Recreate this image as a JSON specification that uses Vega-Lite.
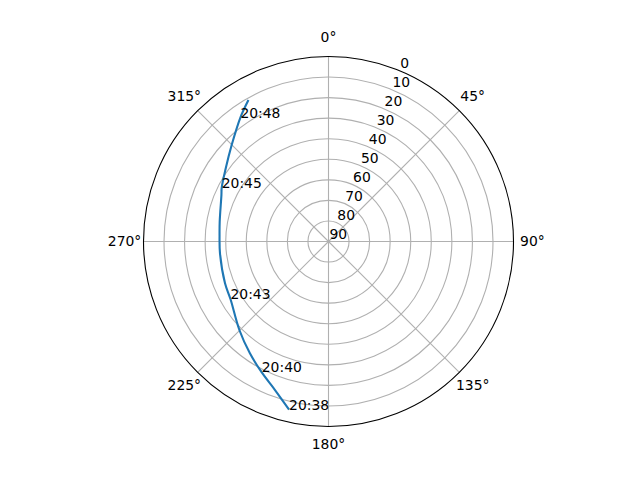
{
  "$schema": "https://vega.github.io/schema/vega-lite/v6.json",
  "width": 370,
  "height": 370,
  "autosize": "none",
  "padding": {"left": 143.5, "top": 56.5, "right": 126.5, "bottom": 53.5},
  "background": "white",
  "config": {
    "view": {"stroke": null},
    "font": "DejaVu Sans",
    "text": {"font": "DejaVu Sans", "fontSize": 13.9, "color": "black"}
  },
  "layer": [
    {
      "data": {"values": [
        {"elev": 10}, {"elev": 20}, {"elev": 30}, {"elev": 40},
        {"elev": 50}, {"elev": 60}, {"elev": 70}, {"elev": 80}
      ]},
      "mark": {"type": "arc", "filled": false, "stroke": "#b0b0b0", "strokeWidth": 1.1, "fill": null},
      "encoding": {
        "theta": {"value": 0},
        "theta2": {"value": 6.2832},
        "radius": {"field": "elev", "type": "quantitative", "stack": null, "scale": {"type": "linear", "domain": [90, 0], "range": [0, 185], "zero": false, "nice": false}}
      }
    },
    {
      "data": {"values": [
        {"az": 0}, {"az": 45}, {"az": 90}, {"az": 135},
        {"az": 180}, {"az": 225}, {"az": 270}, {"az": 315}
      ]},
      "transform": [
        {"calculate": "90 * sin(datum.az * PI / 180)", "as": "x"},
        {"calculate": "90 * cos(datum.az * PI / 180)", "as": "y"},
        {"calculate": "0", "as": "x0"}
      ],
      "mark": {"type": "rule", "stroke": "#b0b0b0", "strokeWidth": 1.1},
      "encoding": {
        "x": {"field": "x0", "type": "quantitative", "scale": {"domain": [-90, 90], "nice": false, "zero": false}, "axis": null},
        "y": {"field": "x0", "type": "quantitative", "scale": {"domain": [-90, 90], "nice": false, "zero": false}, "axis": null},
        "x2": {"field": "x"},
        "y2": {"field": "y"}
      }
    },
    {
      "data": {"values": [{"elev": 0}]},
      "mark": {"type": "arc", "filled": false, "stroke": "black", "strokeWidth": 1.1, "fill": null},
      "encoding": {
        "theta": {"value": 0},
        "theta2": {"value": 6.2832},
        "radius": {"field": "elev", "type": "quantitative", "stack": null, "scale": {"type": "linear", "domain": [90, 0], "range": [0, 185], "zero": false, "nice": false}}
      }
    },
    {
      "data": {"values": [
        {"i": 1, "az": 193.2, "el": 6.0, "label": "20:38"},
        {"i": 2, "az": 199.8, "el": 13.2, "label": ""},
        {"i": 3, "az": 207.0, "el": 18.5, "label": "20:40"},
        {"i": 4, "az": 215.1, "el": 23.5, "label": ""},
        {"i": 5, "az": 225.2, "el": 28.9, "label": ""},
        {"i": 6, "az": 239.6, "el": 34.7, "label": "20:43"},
        {"i": 7, "az": 248.0, "el": 35.7, "label": ""},
        {"i": 8, "az": 263.8, "el": 36.9, "label": ""},
        {"i": 9, "az": 273.4, "el": 36.9, "label": ""},
        {"i": 10, "az": 280.3, "el": 36.2, "label": ""},
        {"i": 11, "az": 293.5, "el": 33.2, "label": ""},
        {"i": 12, "az": 296.8, "el": 31.8, "label": "20:45"},
        {"i": 13, "az": 305.5, "el": 28.6, "label": ""},
        {"i": 14, "az": 314.9, "el": 23.5, "label": ""},
        {"i": 15, "az": 324.6, "el": 16.0, "label": "20:48"},
        {"i": 16, "az": 330.5, "el": 10.9, "label": ""}
      ]},
      "transform": [
        {"calculate": "(90 - datum.el) * sin(datum.az * PI / 180)", "as": "x"},
        {"calculate": "(90 - datum.el) * cos(datum.az * PI / 180)", "as": "y"}
      ],
      "layer": [
        {
          "mark": {"type": "line", "color": "#1f77b4", "strokeWidth": 2.1, "interpolate": "catmull-rom"},
          "encoding": {
            "x": {"field": "x", "type": "quantitative", "scale": {"domain": [-90, 90], "nice": false, "zero": false}, "axis": null},
            "y": {"field": "y", "type": "quantitative", "scale": {"domain": [-90, 90], "nice": false, "zero": false}, "axis": null},
            "order": {"field": "i", "type": "quantitative"}
          }
        },
        {
          "transform": [{"filter": "datum.label != ''"}],
          "mark": {"type": "text", "align": "left", "baseline": "alphabetic"},
          "encoding": {
            "x": {"field": "x", "type": "quantitative", "scale": {"domain": [-90, 90], "nice": false, "zero": false}, "axis": null},
            "y": {"field": "y", "type": "quantitative", "scale": {"domain": [-90, 90], "nice": false, "zero": false}, "axis": null},
            "text": {"field": "label"}
          }
        }
      ]
    },
    {
      "data": {"values": [
        {"az": 0, "label": "0°"}, {"az": 45, "label": "45°"}, {"az": 90, "label": "90°"},
        {"az": 135, "label": "135°"}, {"az": 180, "label": "180°"}, {"az": 225, "label": "225°"},
        {"az": 270, "label": "270°"}, {"az": 315, "label": "315°"}
      ]},
      "transform": [
        {"calculate": "99.2 * sin(datum.az * PI / 180)", "as": "x"},
        {"calculate": "99.2 * cos(datum.az * PI / 180)", "as": "y"}
      ],
      "mark": {"type": "text", "align": "center", "baseline": "middle"},
      "encoding": {
        "x": {"field": "x", "type": "quantitative", "scale": {"domain": [-90, 90], "nice": false, "zero": false}, "axis": null},
        "y": {"field": "y", "type": "quantitative", "scale": {"domain": [-90, 90], "nice": false, "zero": false}, "axis": null},
        "text": {"field": "label"}
      }
    },
    {
      "data": {"values": [
        {"el": 0}, {"el": 10}, {"el": 20}, {"el": 30}, {"el": 40},
        {"el": 50}, {"el": 60}, {"el": 70}, {"el": 80}, {"el": 90}
      ]},
      "transform": [
        {"calculate": "(90 - datum.el) * sin(22.5 * PI / 180)", "as": "x"},
        {"calculate": "(90 - datum.el) * cos(22.5 * PI / 180)", "as": "y"}
      ],
      "mark": {"type": "text", "align": "left", "baseline": "bottom", "dx": 1},
      "encoding": {
        "x": {"field": "x", "type": "quantitative", "scale": {"domain": [-90, 90], "nice": false, "zero": false}, "axis": null},
        "y": {"field": "y", "type": "quantitative", "scale": {"domain": [-90, 90], "nice": false, "zero": false}, "axis": null},
        "text": {"field": "el", "type": "quantitative"}
      }
    }
  ]
}
